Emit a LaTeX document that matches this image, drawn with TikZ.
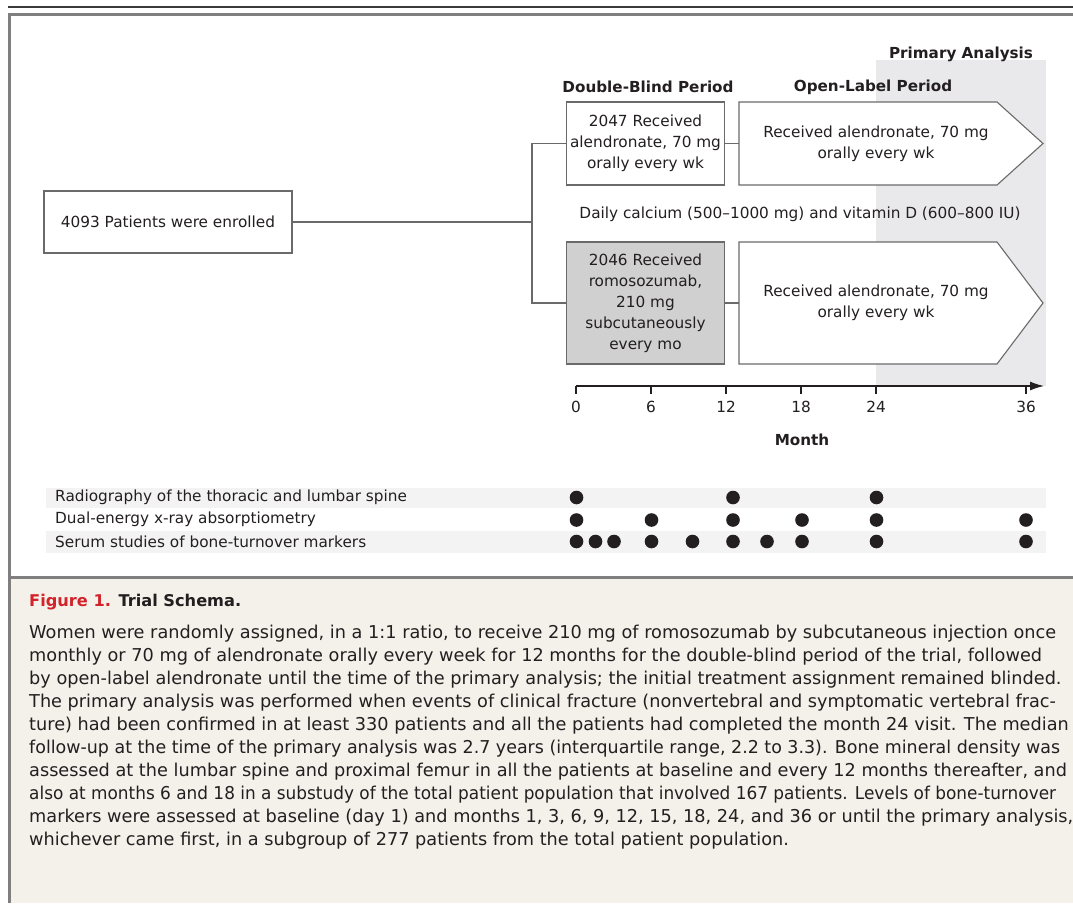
\documentclass[tikz,border=0pt]{standalone}
\usepackage{fontspec}
\setmainfont{DejaVu Sans}
\usetikzlibrary{arrows.meta}
\definecolor{ink}{HTML}{231F20}
\definecolor{framec}{HTML}{7F7F7F}
\definecolor{topc}{HTML}{3A3A3A}
\definecolor{boxc}{HTML}{6A6A6A}
\definecolor{romofill}{HTML}{D0D0D0}
\definecolor{bandc}{HTML}{E9E9EB}
\definecolor{rowc}{HTML}{F3F3F3}
\definecolor{capbg}{HTML}{F4F1EB}
\definecolor{nejmred}{HTML}{D2232A}
\begin{document}
\begin{tikzpicture}[x=1pt,y=-1pt,
  txt/.style={font=\fontsize{15.3}{21}\selectfont, text=ink, align=center, inner sep=0pt},
  hdr/.style={font=\fontsize{15.2}{20}\bfseries\selectfont, text=ink, inner sep=0pt},
  boxn/.style={draw=boxc, line width=1.1pt, fill=white, text=ink, align=center,
    font=\fontsize{15.3}{21}\selectfont, inner sep=0pt},
  conn/.style={draw=boxc, line width=1.1pt},
  rowtxt/.style={font=\fontsize{15.3}{20}\selectfont, text=ink, anchor=west, inner sep=0pt},
  capline/.style={font=\fontsize{17.7}{23}\selectfont, text=ink, anchor=west, inner sep=0pt},
  dot/.style={fill=ink}
]
\useasboundingbox (0,0) rectangle (1073,903);
\clip (0,0) rectangle (1073,903);
\fill[white] (0,0) rectangle (1073,903);

% caption background and frame
\fill[capbg] (11,578.5) rectangle (1073,903);
\draw[topc, line width=2pt] (8,6.5) -- (1073,6.5);
\draw[framec, line width=3pt] (9.5,903) -- (9.5,14) -- (1073,14);
\draw[framec, line width=3pt] (9.5,577) -- (1073,577);

% primary analysis band
\fill[bandc] (876,60) rectangle (1046,386);
\node[hdr] (pa) at (961,54) {Primary Analysis};
\node[hdr] (dbp) at (648,87) {Double-Blind Period};
\node[hdr] (olp) at (873,87) {Open-Label Period};

% enrolled
\node[boxn, minimum width=248pt, minimum height=62pt] (enr) at (168,222) {4093 Patients were enrolled};

% double-blind boxes
\node[boxn, minimum width=158pt, minimum height=83pt] (db1) at (645.5,143.5)
  {2047 Received\\alendronate, 70 mg\\orally every wk};
\node[boxn, fill=romofill, minimum width=158pt, minimum height=122pt] (db2) at (645.5,303)
  {2046 Received\\romosozumab,\\210 mg\\subcutaneously\\every mo};

% open-label arrow boxes
\draw[boxc, line width=1.1pt, fill=white] (739,102) -- (997,102) -- (1043,143.5) -- (997,185) -- (739,185) -- cycle;
\node[txt, minimum width=274pt] (ol1) at (876,143.5) {Received alendronate, 70 mg\\orally every wk};
\draw[boxc, line width=1.1pt, fill=white] (739,242) -- (997,242) -- (1043,303) -- (997,364) -- (739,364) -- cycle;
\node[txt, minimum width=274pt] (ol2) at (876,303) {Received alendronate, 70 mg\\orally every wk};

\node[txt] (cal) at (800,214) {Daily calcium (500–1000 mg) and vitamin D (600–800 IU)};

% connectors
\coordinate (split) at (532,222);
\draw[conn] (enr.east) -- (split);
\draw[conn] (db1.west) -| (split);
\draw[conn] (db2.west) -| (split);
\draw[conn] (db1.east) -- (ol1.west);
\draw[conn] (db2.east) -- (ol2.west);

% axis
\coordinate (ax0) at (576,386);
\coordinate (axend) at (1044,386);
\draw[ink, line width=1.3pt, -{Latex[length=14pt,width=9pt]}] (ax0) -- (axend);
\foreach \m/\xx in {0/576,6/651,12/726,18/801,24/876,36/1026}{
  \draw[ink, line width=1.3pt] (\xx,386) -- (\xx,394);
  \node[txt] (t\m) at (\xx,407) {\m};
}
\node[hdr] (month) at (802,440) {Month};

% assessment table
\fill[rowc] (46,488) rectangle (1046,508);
\fill[rowc] (46,531) rectangle (1046,553);
\node[rowtxt] (r1) at (55,497.5) {Radiography of the thoracic and lumbar spine};
\node[rowtxt] (r2) at (55,519.5) {Dual-energy x-ray absorptiometry};
\node[rowtxt] (r3) at (55,541.5) {Serum studies of bone-turnover markers};
\foreach \xx in {576.5,733,876.5}{ \fill[dot] (\xx,497.5) circle (6.8); }
\foreach \xx in {576.5,651.5,733,802,876.5,1026}{ \fill[dot] (\xx,520) circle (6.8); }
\foreach \xx in {576.5,595.5,614,651.5,692.5,733,767,802,876.5,1026}{ \fill[dot] (\xx,541.5) circle (6.8); }

% caption
\node[capline, font=\fontsize{16.2}{23}\bfseries\selectfont] (cap) at (29,602)
  {\textcolor{nejmred}{Figure 1.} Trial Schema.};
\node[capline] (c1) at (29,634) {Women were randomly assigned, in a 1:1 ratio, to receive 210 mg of romosozumab by subcutaneous injection once};
\node[capline] (c2) at (29,657) {monthly or 70 mg of alendronate orally every week for 12 months for the double-blind period of the trial, followed};
\node[capline] (c3) at (29,680) {by open-label alendronate until the time of the primary analysis; the initial treatment assignment remained blinded.};
\node[capline] (c4) at (29,703) {The primary analysis was performed when events of clinical fracture (nonvertebral and symptomatic vertebral frac-};
\node[capline] (c5) at (29,726) {ture) had been confirmed in at least 330 patients and all the patients had completed the month 24 visit. The median};
\node[capline] (c6) at (29,749) {\scalebox{0.985}[1]{follow-up at the time of the primary analysis was 2.7 years (interquartile range, 2.2 to 3.3). Bone mineral density was}};
\node[capline] (c7) at (29,772) {assessed at the lumbar spine and proximal femur in all the patients at baseline and every 12 months thereafter, and};
\node[capline] (c8) at (29,795) {\scalebox{0.955}[1]{also at months 6 and 18 in a substudy of the total patient population that involved 167 patients. Levels of bone-turnover}};
\node[capline] (c9) at (29,818) {markers were assessed at baseline (day 1) and months 1, 3, 6, 9, 12, 15, 18, 24, and 36 or until the primary analysis,};
\node[capline] (c10) at (29,841) {whichever came first, in a subgroup of 277 patients from the total patient population.};
\end{tikzpicture}
\end{document}
